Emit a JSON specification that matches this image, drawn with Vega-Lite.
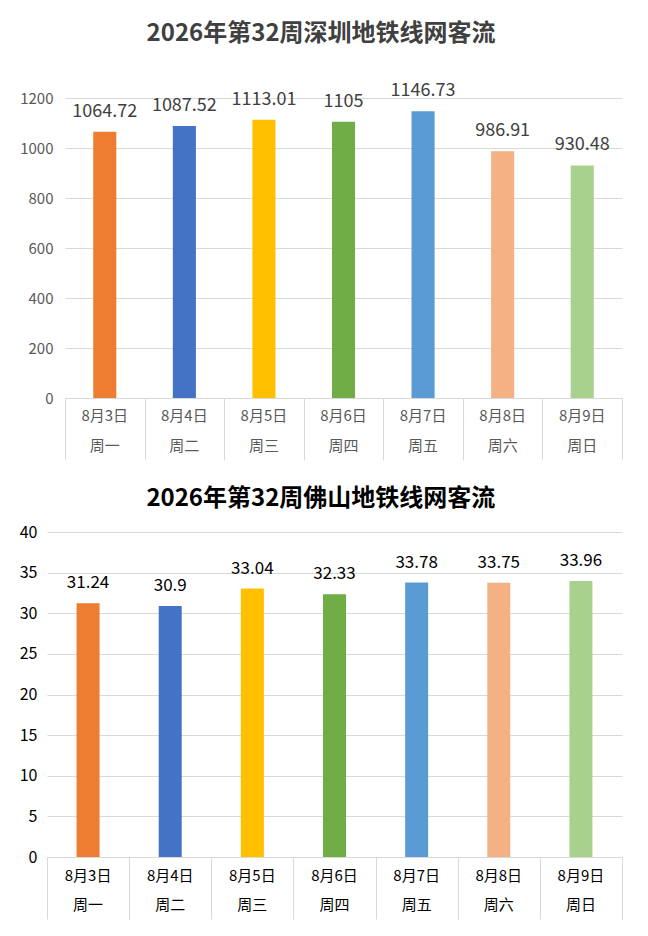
{
  "$schema": "https://vega.github.io/schema/vega-lite/v6.json",
  "background": "white",
  "padding": {"top": 22, "left": 19, "right": 20, "bottom": 10},
  "config": {"font": "Noto Sans CJK SC", "view": {"stroke": null}},
  "datasets": {
    "sz": [
      {"day": "8月3日|周一", "value": 1064.72},
      {"day": "8月4日|周二", "value": 1087.52},
      {"day": "8月5日|周三", "value": 1113.01},
      {"day": "8月6日|周四", "value": 1105},
      {"day": "8月7日|周五", "value": 1146.73},
      {"day": "8月8日|周六", "value": 986.91},
      {"day": "8月9日|周日", "value": 930.48}
    ],
    "fs": [
      {"day": "8月3日|周一", "value": 31.24},
      {"day": "8月4日|周二", "value": 30.9},
      {"day": "8月5日|周三", "value": 33.04},
      {"day": "8月6日|周四", "value": 32.33},
      {"day": "8月7日|周五", "value": 33.78},
      {"day": "8月8日|周六", "value": 33.75},
      {"day": "8月9日|周日", "value": 33.96}
    ]
  },
  "columns": 1,
  "spacing": 26,
  "concat": [
    {
      "width": 575,
      "height": 300,
      "data": {"name": "sz"},
      "title": {"text": "2026年第32周深圳地铁线网客流", "fontSize": 24, "fontWeight": "bold", "color": "#404040", "anchor": "middle", "frame": "bounds", "offset": 36},
      "layer": [
        {
          "mark": {"type": "bar", "width": {"band": 0.29}},
          "encoding": {
            "x": {"field": "day", "type": "nominal", "sort": null, "scale": {"paddingInner": 0, "paddingOuter": 0, "range": [18, 575]},
              "axis": {"orient": "bottom", "title": null, "labelExpr": "split(datum.value, '|')", "labelAngle": 0, "ticks": false, "domainColor": "#d9d9d9", "labelFontSize": 15, "labelColor": "#595959", "labelPadding": 10, "labelLineHeight": 30, "grid": false}},
            "y": {"field": "value", "type": "quantitative", "scale": {"domain": [0, 1200]},
              "axis": {"title": null, "values": [0, 200, 400, 600, 800, 1000, 1200], "format": "d", "domain": false, "ticks": false, "gridColor": "#d9d9d9", "labelFontSize": 15, "labelColor": "#595959", "labelPadding": -6}},
            "color": {"field": "day", "type": "nominal", "sort": null, "legend": null,
              "scale": {"range": ["#ED7D31", "#4472C4", "#FFC000", "#70AD47", "#5B9BD5", "#F4B183", "#A9D18E"]}}
          }
        },
        {
          "mark": {"type": "text", "baseline": "alphabetic", "dy": -15, "fontSize": 18, "color": "#404040"},
          "encoding": {
            "x": {"field": "day", "type": "nominal", "sort": null,
              "axis": {"orient": "bottom", "title": null, "labels": false, "domain": false, "tickBand": "extent", "tickSize": 62, "tickColor": "#d9d9d9", "grid": false}},
            "y": {"field": "value", "type": "quantitative"},
            "text": {"field": "value", "type": "nominal"}
          }
        }
      ],
      "resolve": {"axis": {"x": "independent"}}
    },
    {
      "width": 575,
      "height": 325,
      "data": {"name": "fs"},
      "title": {"text": "2026年第32周佛山地铁线网客流", "fontSize": 24, "fontWeight": "bold", "color": "#000000", "anchor": "middle", "frame": "bounds", "offset": 13},
      "layer": [
        {
          "mark": {"type": "bar", "width": {"band": 0.28}},
          "encoding": {
            "x": {"field": "day", "type": "nominal", "sort": null, "scale": {"paddingInner": 0, "paddingOuter": 0},
              "axis": {"orient": "bottom", "title": null, "labelExpr": "split(datum.value, '|')", "labelAngle": 0, "ticks": false, "domainColor": "#d9d9d9", "labelFontSize": 15, "labelColor": "#000000", "labelPadding": 11, "labelLineHeight": 29, "grid": false}},
            "y": {"field": "value", "type": "quantitative", "scale": {"domain": [0, 40]},
              "axis": {"title": null, "values": [0, 5, 10, 15, 20, 25, 30, 35, 40], "domain": false, "ticks": false, "gridColor": "#d9d9d9", "labelFontSize": 16, "labelColor": "#000000", "labelPadding": 10}},
            "color": {"field": "day", "type": "nominal", "sort": null, "legend": null,
              "scale": {"range": ["#ED7D31", "#4472C4", "#FFC000", "#70AD47", "#5B9BD5", "#F4B183", "#A9D18E"]}}
          }
        },
        {
          "mark": {"type": "text", "baseline": "alphabetic", "dy": -15, "fontSize": 17, "color": "#000000"},
          "encoding": {
            "x": {"field": "day", "type": "nominal", "sort": null,
              "axis": {"orient": "bottom", "title": null, "labels": false, "domain": false, "tickBand": "extent", "tickSize": 62, "tickColor": "#d9d9d9", "grid": false}},
            "y": {"field": "value", "type": "quantitative"},
            "text": {"field": "value", "type": "nominal"}
          }
        }
      ],
      "resolve": {"axis": {"x": "independent"}}
    }
  ]
}
